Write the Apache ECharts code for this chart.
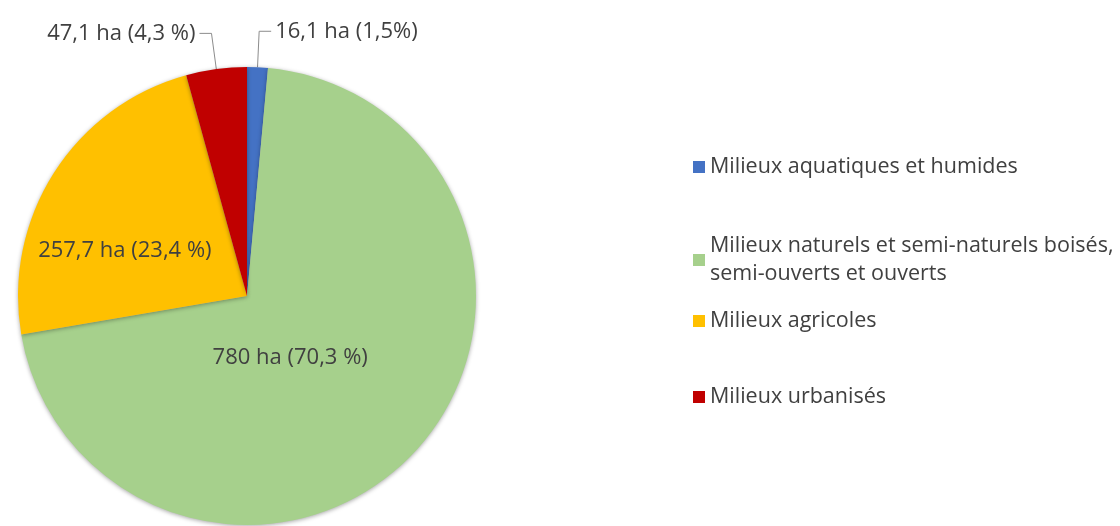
<!DOCTYPE html>
<html>
<head>
<meta charset="utf-8">
<script src="https://cdn.jsdelivr.net/npm/echarts@6/dist/echarts.min.js"></script>
<style>html,body{margin:0;padding:0;background:#fff;}#c{width:1120px;height:526px;}</style>
</head>
<body>
<div id="c"></div>
<script>
const categories = [
  'Milieux aquatiques et humides',
  'Milieux naturels et semi-naturels boisés, semi-ouverts et ouverts',
  'Milieux agricoles',
  'Milieux urbanisés'
];
const values = [16.1, 780, 257.7, 47.1];
const labelTexts = ['16,1 ha (1,5%)', '780 ha (70,3 %)', '257,7 ha (23,4 %)', '47,1 ha (4,3 %)'];
const colors = ['#4472C4', '#A6D08C', '#FFC000', '#C00000'];

const FONT = '"Open Sans", sans-serif';
const TXT = '#404040';

const chart = echarts.init(document.getElementById('c'), null, {renderer: 'canvas'});

const outsideIdx = [0, 3];
const data = categories.map((name, i) => {
  const outside = outsideIdx.indexOf(i) >= 0;
  return {
    name: name,
    value: values[i],
    itemStyle: {color: colors[i]},
    label: {
      show: true,
      position: outside ? 'outside' : 'inside',
      formatter: labelTexts[i],
      color: TXT,
      fontFamily: FONT,
      fontSize: 22
    },
    labelLine: {
      show: outside,
      length: 36,
      length2: 12,
      lineStyle: {color: '#8c8c8c', width: 1}
    }
  };
});

const legendTops = [153, 218, 307, 383];
const legendPad = [[0,0,0,0],[28,0,0,0],[0,0,0,0],[0,0,0,0]];
const legends = categories.map((name, i) => ({
  data: [name],
  left: 693,
  top: legendTops[i],
  padding: 0,
  orient: 'vertical',
  icon: 'rect',
  itemWidth: 12,
  itemHeight: 12,
  itemGap: 0,
  selectedMode: false,
  formatter: function (n) {
    return n.replace('boisés, ', 'boisés,\n');
  },
  textStyle: {
    color: TXT,
    fontFamily: FONT,
    fontSize: 21.5,
    lineHeight: 28,
    padding: legendPad[i]
  }
}));

chart.setOption({
  backgroundColor: '#ffffff',
  animation: false,
  legend: legends,
  series: [{
    type: 'pie',
    center: [247, 296],
    radius: 229,
    startAngle: 90,
    clockwise: true,
    avoidLabelOverlap: false,
    itemStyle: {
      borderWidth: 0,
      shadowBlur: 4,
      shadowColor: 'rgba(0,0,0,0.35)',
      shadowOffsetY: 1
    },
    label: {distanceToLabelLine: 4},
    emphasis: {disabled: true},
    labelLayout: function (p) {
      if (p.dataIndex === 1) return {dx: -43, dy: -18};
      if (p.dataIndex === 2) return {dx: -23, dy: 18};
      return {};
    },
    data: data
  }]
});
</script>
</body>
</html>
